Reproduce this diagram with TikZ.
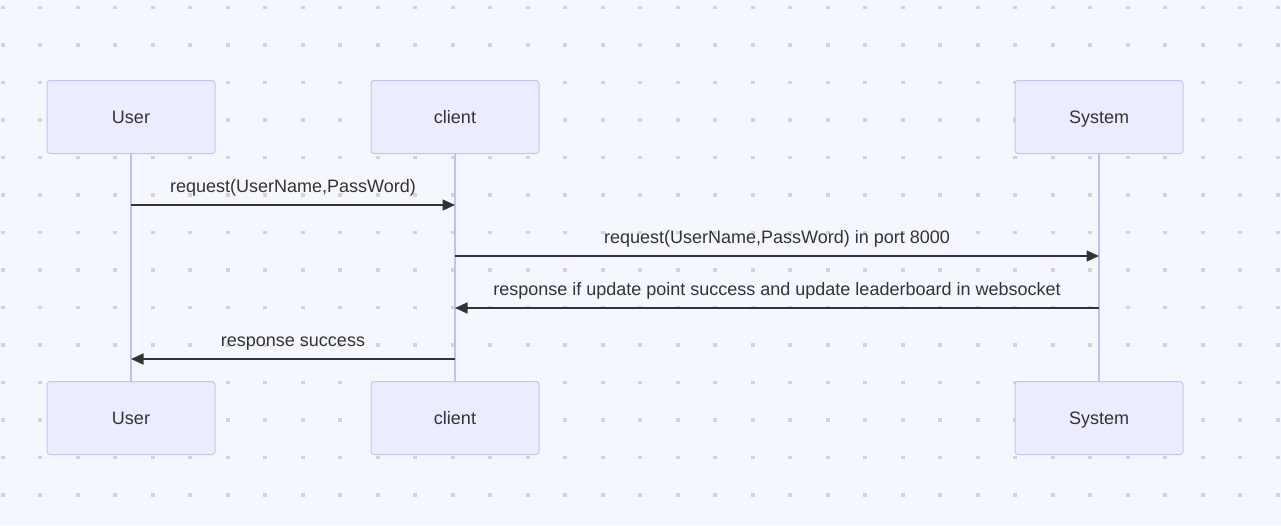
\documentclass[tikz,border=0pt]{standalone}
\usepackage{fontspec}
\setmainfont{Liberation Sans}
\usetikzlibrary{arrows.meta}
\definecolor{bg}{HTML}{F5F7FE}
\definecolor{dotc}{HTML}{D2D3D6}
\definecolor{actfill}{HTML}{ECECFF}
\definecolor{actline}{HTML}{C4C4F8}
\definecolor{lifec}{HTML}{C0C0FA}
\definecolor{txt}{HTML}{333333}
\tikzset{
  actor/.style={draw=actline, fill=actfill, line width=1pt, rounded corners=3pt,
    minimum width=168pt, minimum height=73pt, inner sep=0pt,
    text height=12.6pt, text depth=0pt,
    font=\fontsize{18pt}{21pt}\selectfont, text=txt},
  lifeline/.style={draw=lifec, line width=2.2pt},
  msg/.style={draw=txt, line width=1.5pt, -{Triangle[length=12.5pt,width=11pt]}},
  msglabel/.style={font=\fontsize{18pt}{21pt}\selectfont, text=txt, inner sep=0pt, anchor=base},
}
\begin{document}
\begin{tikzpicture}[x=1pt,y=-1pt]
\fill[bg] (0,0) rectangle (1281,525);
\useasboundingbox (0,0) rectangle (1281,525);
\foreach \i in {0,...,34}{
  \foreach \j in {0,...,13}{
    \fill[dotc] ({2.7+37.5*\i-1.8},{7.3+37.5*\j-1.8}) rectangle ++(3.6,3.6);
  }
}
% actors
\node[actor] (ut) at (131,117) {User};
\node[actor] (ct) at (455,117) {client};
\node[actor] (st) at (1099,117) {System};
\node[actor] (ub) at (131,418) {User};
\node[actor] (cb) at (455,418) {client};
\node[actor] (sb) at (1099,418) {System};
% lifelines
\draw[lifeline] (ut.south) -- (ub.north);
\draw[lifeline] (ct.south) -- (cb.north);
\draw[lifeline] (st.south) -- (sb.north);
% message anchors
\coordinate (u1) at (ut.south |- 0,205);
\coordinate (c1) at (ct.south |- 0,205);
\coordinate (c2) at (ct.south |- 0,256);
\coordinate (s2) at (st.south |- 0,256);
\coordinate (s3) at (st.south |- 0,308);
\coordinate (c3) at (ct.south |- 0,308);
\coordinate (c4) at (ct.south |- 0,359);
\coordinate (u4) at (ut.south |- 0,359);
\draw[msg] (u1) -- (c1) node[msglabel, midway, yshift=12.3pt] {request(UserName,PassWord)};
\draw[msg] (c2) -- (s2) node[msglabel, midway, yshift=12.3pt] {request(UserName,PassWord) in port 8000};
\draw[msg] (s3) -- (c3) node[msglabel, midway, yshift=12.3pt] {response if update point success and update leaderboard in websocket};
\draw[msg] (c4) -- (u4) node[msglabel, midway, yshift=12.3pt] {response success};
\end{tikzpicture}
\end{document}
